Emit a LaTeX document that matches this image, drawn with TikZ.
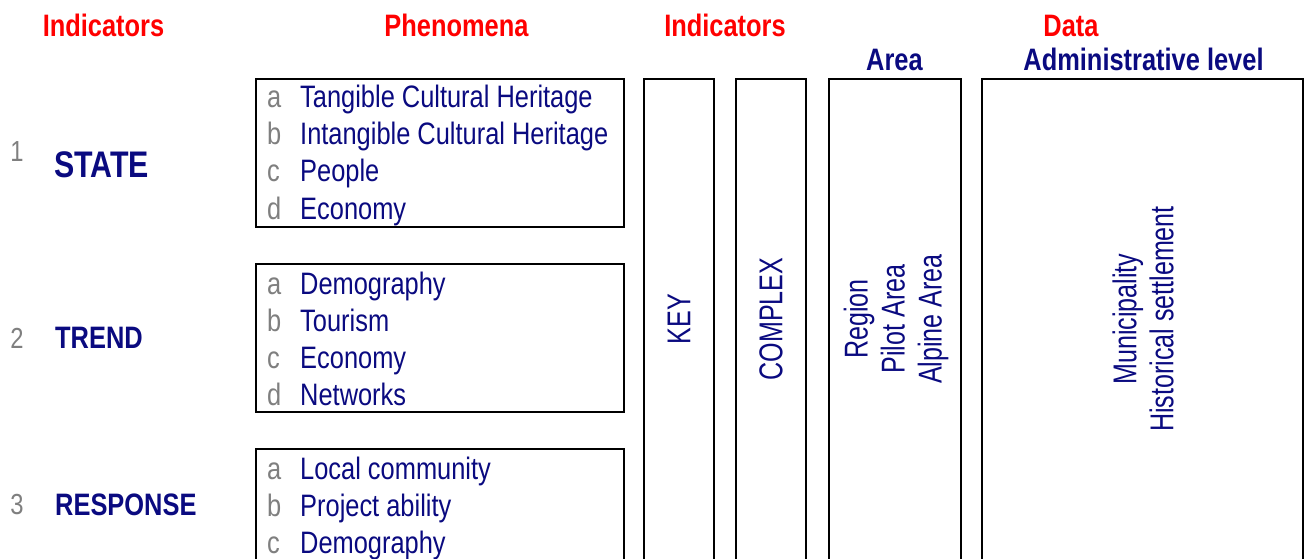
\documentclass[tikz,border=0pt]{standalone}
\usepackage{fontspec}
\setmainfont{Liberation Sans}
\newfontfamily\narrowfont[FakeStretch=0.82]{Liberation Sans}
\newfontfamily\rotfont[FakeStretch=0.76]{Liberation Sans}
\definecolor{hred}{HTML}{FF0000}
\definecolor{navy}{HTML}{0A0A80}
\definecolor{lgray}{HTML}{7F7F7F}
\tikzset{
  hdr/.style={text=hred, font=\narrowfont\bfseries\fontsize{31}{37}\selectfont, anchor=base, inner sep=0},
  subhdr/.style={text=navy, font=\narrowfont\bfseries\fontsize{31}{37}\selectfont, anchor=base, inner sep=0},
  numlbl/.style={text=lgray, font=\narrowfont\fontsize{29}{34}\selectfont, inner sep=0},
  indlbl/.style={text=navy, font=\narrowfont\bfseries\fontsize{31}{37}\selectfont, anchor=west, inner sep=0},
  letter/.style={text=lgray, font=\narrowfont\fontsize{31}{37}\selectfont, anchor=base west, inner sep=0},
  item/.style={text=navy, font=\narrowfont\fontsize{31}{37}\selectfont, anchor=base west, inner sep=0},
  box/.style={draw=black, line width=2.6pt, inner sep=0, rectangle},
  rottext/.style={text=navy, font=\rotfont\fontsize{33}{37}\selectfont, rotate=90, align=center, inner sep=0}
}
\begin{document}
\begin{tikzpicture}[x=1pt,y=-1pt]
\useasboundingbox (0,0) rectangle (1307,559);
\clip (0,0) rectangle (1307,559);
% headers
\node[hdr] (h1) at (103.5,37) {Indicators};
\node[hdr] (h2) at (456.5,37) {Phenomena};
\node[hdr] (h3) at (725,37) {Indicators};
\node[hdr] (h4) at (1071,37) {Data};
\node[subhdr] (h5) at (894.5,71) {Area};
\node[subhdr] (h6) at (1143.5,71) {Administrative level};
% left indicators
\node[numlbl] (n1) at (17,152) {1};
\node[indlbl, font=\narrowfont\bfseries\fontsize{37}{42}\selectfont] (i1) at (54,164.5) {STATE};
\node[numlbl] (n2) at (17,338) {2};
\node[indlbl] (i2) at (55,338) {TREND};
\node[numlbl] (n3) at (17,505) {3};
\node[indlbl] (i3) at (55,505) {RESPONSE};
% phenomena boxes
\node[box, minimum width=368pt, minimum height=148pt] (b1) at (440,153) {};
\node[box, minimum width=368pt, minimum height=148pt] (b2) at (440,338) {};
\node[box, minimum width=368pt, minimum height=151pt] (b3) at (440,524.5) {};
% box 1 items
\node[letter] (l1a) at (267,108) {a};
\node[item] (t1a) at (300,108) {Tangible Cultural Heritage};
\node[letter] (l1b) at (267,145) {b};
\node[item] (t1b) at (300,145) {Intangible Cultural Heritage};
\node[letter] (l1c) at (267,182) {c};
\node[item] (t1c) at (300,182) {People};
\node[letter] (l1d) at (267,219) {d};
\node[item] (t1d) at (300,219) {Economy};
% box 2 items
\node[letter] (l2a) at (267,294) {a};
\node[item] (t2a) at (300,294) {Demography};
\node[letter] (l2b) at (267,331) {b};
\node[item] (t2b) at (300,331) {Tourism};
\node[letter] (l2c) at (267,368) {c};
\node[item] (t2c) at (300,368) {Economy};
\node[letter] (l2d) at (267,405) {d};
\node[item] (t2d) at (300,405) {Networks};
% box 3 items
\node[letter] (l3a) at (267,479) {a};
\node[item] (t3a) at (300,479) {Local community};
\node[letter] (l3b) at (267,516) {b};
\node[item] (t3b) at (300,516) {Project ability};
\node[letter] (l3c) at (267,553) {c};
\node[item] (t3c) at (300,553) {Demography};
% tall columns
\node[box, minimum width=70pt, minimum height=521pt] (key) at (679,339.5) {};
\node[box, minimum width=70pt, minimum height=521pt] (cpx) at (771,339.5) {};
\node[box, minimum width=132pt, minimum height=521pt] (area) at (895,339.5) {};
\node[box, minimum width=321pt, minimum height=521pt] (adm) at (1142.5,339.5) {};
\node[rottext] (keyt) at (679,319) {KEY};
\node[rottext] (cpxt) at (771,319) {COMPLEX};
\node[rottext] (areat) at (896,319) {Region\\Pilot Area\\Alpine Area};
\node[rottext] (admt) at (1143,319) {Municipality\\Historical settlement};
\end{tikzpicture}
\end{document}
